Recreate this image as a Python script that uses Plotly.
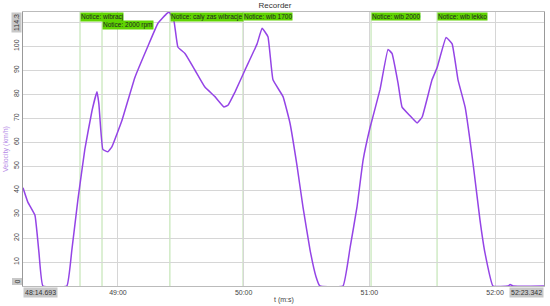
import plotly.graph_objects as go

# czas w sekundach (48:14.693 = 2894.693 s), predkosc w km/h
t_sec = [2894.693, 2897.0, 2900.4, 2902.3, 2904.2, 2915.6, 2918.0, 2920.9, 2924.2,
         2927.6, 2930.0, 2930.9, 2932.8, 2935.2, 2937.1, 2941.9, 2948.1, 2954.3,
         2959.1, 2963.4, 2964.4, 2966.7, 2968.6, 2972.0, 2976.8, 2981.5, 2986.3,
         2990.6, 2992.5, 2995.9, 3000.6, 3006.4, 3008.8, 3011.6, 3014.0, 3018.8,
         3022.1, 3025.5, 3028.3, 3031.7, 3034.5, 3036.4, 3047.4, 3050.8, 3054.1,
         3057.0, 3060.3, 3065.1, 3068.9, 3070.8, 3073.7, 3075.6, 3079.4, 3082.8,
         3085.2, 3089.9, 3092.3, 3096.6, 3099.5, 3102.3, 3105.7, 3109.5, 3112.8,
         3115.2, 3119.0, 3126.2, 3127.2, 3128.6, 3143.342]
velocity = [41, 35, 29.5, 14, 0, 0, 15, 36, 57,
            73, 81, 76, 57, 56, 58, 69, 87, 100,
            109.6, 113.7, 114.3, 110.8, 99.7, 97, 90, 83, 79,
            74.7, 75.4, 81, 90, 101, 107.5, 104, 86, 79,
            68, 50, 33, 15, 4, 0, 0, 16, 33,
            52.5, 66, 82, 98.7, 97, 84.5, 74.6, 71, 68,
            70.5, 86, 91, 103.7, 101, 86, 74.6, 51, 27.5,
            13.7, 0, 0, 0.6, 0, 0]

notice_t = [2921.9, 2932.4, 2964.8, 2999.7, 3060.8, 3092.3]
notice_text = ["Notice: wibracj", "Notice: 2000 rpm", "Notice: caly zas wibracje",
               "Notice: wib 1700", "Notice: wib 2000", "Notice: wib lekko"]
notice_row = [0, 1, 0, 0, 0, 0]

x_ticks = [2940, 3000, 3060, 3120]
x_labels = ["49:00", "50:00", "51:00", "52:00"]
y_ticks = [10, 20, 30, 40, 50, 60, 70, 80, 90, 100, 110]

t_start, t_end = t_sec[0], t_sec[-1]
v_max = 114.3

fig = go.Figure()
fig.add_trace(go.Scatter(x=t_sec, y=velocity, mode="lines",
                         line=dict(color="#9444e6", width=1.5, shape="spline", smoothing=0.3),
                         showlegend=False))

shapes = []
anns = []
for t, txt, row in zip(notice_t, notice_text, notice_row):
    shapes.append(dict(type="line", xref="x", yref="paper", x0=t, x1=t, y0=0, y1=1,
                       line=dict(color="#b9e0a8", width=1), layer="below"))
    anns.append(dict(x=t, y=1, xref="x", yref="paper", xanchor="left", yanchor="top",
                     yshift=-8 * row, text=txt, showarrow=False, bgcolor="#5fd400",
                     borderpad=0, font=dict(size=6.5, color="#222")))

# zakres osi w ramkach
box = dict(showarrow=False, bgcolor="#c8c8c8", borderpad=1, font=dict(size=7, color="#333"))
anns.append(dict(x=t_start, y=0, xref="x", yref="paper", xanchor="left", yanchor="top",
                 yshift=-1, text="48:14.693", **box))
anns.append(dict(x=t_end, y=0, xref="x", yref="paper", xanchor="right", yanchor="top",
                 yshift=-1, text="52:23.342", **box))
anns.append(dict(x=0, y=0, xref="paper", yref="y", xanchor="right", yanchor="bottom",
                 xshift=-1, text="0", textangle=-90, **box))
anns.append(dict(x=0, y=v_max, xref="paper", yref="y", xanchor="right", yanchor="top",
                 xshift=-1, text="114.3", textangle=-90, **box))
# tytuly osi
anns.append(dict(x=0.5, y=0, xref="paper", yref="paper", xanchor="center", yanchor="top",
                 yshift=-8, text="t (m:s)", showarrow=False, font=dict(size=7, color="#444")))
anns.append(dict(x=0, y=0.5, xref="paper", yref="paper", xanchor="right", yanchor="middle",
                 xshift=-11, text="Velocity (km/h)", textangle=-90, showarrow=False,
                 font=dict(size=7, color="#b58ae6")))

fig.update_layout(
    width=550, height=306,
    margin=dict(l=23, r=6, t=12, b=20),
    paper_bgcolor="white", plot_bgcolor="white",
    font=dict(family="Liberation Sans, Arial, sans-serif", size=7, color="#444"),
    title=dict(text="Recorder", x=0.5, xanchor="center", y=0.992, yanchor="top",
               font=dict(size=8, color="#333")),
    xaxis=dict(range=[t_start, t_end], tickvals=x_ticks, ticktext=x_labels,
               showgrid=True, gridcolor="#d6d6d6", gridwidth=1, zeroline=False,
               showline=True, linecolor="#bbbbbb", mirror=True, ticks="",
               automargin=False, tickfont=dict(size=7)),
    yaxis=dict(range=[0, v_max], tickvals=y_ticks, tickangle=-90,
               showgrid=True, gridcolor="#d6d6d6", gridwidth=1, zeroline=False,
               showline=True, linecolor="#999999", mirror=True, ticks="",
               automargin=False, tickfont=dict(size=7)),
    shapes=shapes, annotations=anns,
)

# strona bez domyslnego marginesu body, zeby wykres miescil sie w oknie
fig.write_html("out.html", config={"displayModeBar": False},
               post_script="document.body.style.margin='0';")
